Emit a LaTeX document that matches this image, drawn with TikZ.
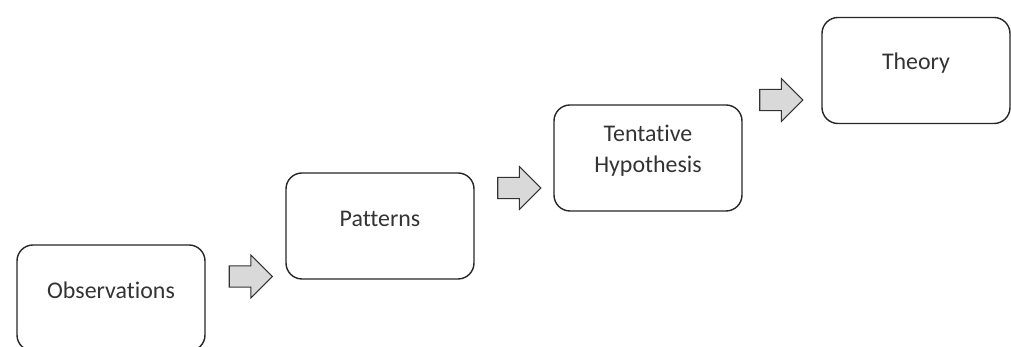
\documentclass[tikz,border=0pt]{standalone}
\usepackage{fontspec}
\setmainfont[Ligatures=NoCommon]{Carlito}
\usetikzlibrary{shapes.arrows, calc}
\tikzset{
    stagebox/.style={draw=black!85, line width=0.8pt, rounded corners=0.32cm,
        minimum width=3.76cm, minimum height=2.12cm},
    stagetext/.style={align=center, font=\fontsize{13.6}{17.6}\selectfont, text=black!80},
    blockarrow/.style={shape=single arrow, draw=black!80, fill=gray!30, line width=0.6pt,
        inner xsep=0pt, inner ysep=5.7pt, single arrow head extend=6.2pt,
        minimum height=0.86cm},
}
\begin{document}
\begin{tikzpicture}
    \useasboundingbox (0,0) rectangle (20.22,6.94);
    \node[stagebox] (obs) at (2.22,0.98) {};
    \node[stagebox] (pat) at (7.6,2.42) {};
    \node[stagebox] (hyp) at (12.96,3.78) {};
    \node[stagebox] (the) at (18.32,5.53) {};
    \foreach \n/\t in {obs/Observations, pat/Patterns, hyp/{Tentative\\Hypothesis}, the/Theory}
        \node[stagetext] (\n_t) at ($(\n.north) - (0,0.93)$) {\t};
    \node[blockarrow] (a_obs) at (4.91,1.41) {};
    \node[blockarrow] (a_pat) at (10.28,3.18) {};
    \node[blockarrow] (a_hyp) at (15.52,4.94) {};
\end{tikzpicture}
\end{document}
